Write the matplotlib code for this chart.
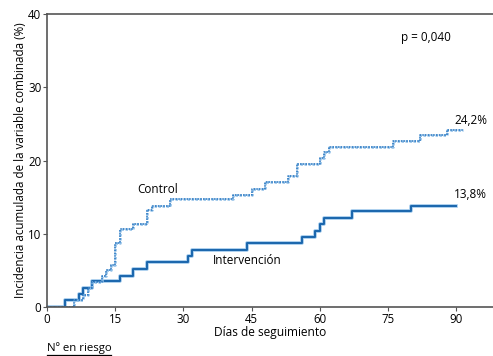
import matplotlib.pyplot as plt

plt.rcParams['font.family'] = ['Open Sans', 'DejaVu Sans']

# Intervención (solid)
int_days = [0, 4, 7, 8, 10, 16, 19, 22, 31, 32, 44, 56, 59, 60, 61, 67, 80, 90]
int_inc = [0, 0.9, 1.8, 2.6, 3.5, 4.3, 5.2, 6.1, 7.0, 7.8, 8.7, 9.5, 10.4, 11.3, 12.1, 13.1, 13.8, 13.8]

# Control (dotted)
ctl_days = [0, 6, 8, 9, 10, 12, 13, 14, 15, 16, 19, 22, 23, 27, 41, 45, 48, 53, 55,
            60, 61, 62, 76, 82, 88, 91.5]
ctl_inc = [0, 0.9, 1.7, 2.6, 3.4, 4.3, 5.0, 5.8, 8.8, 10.7, 11.3, 13.2, 13.8, 14.7,
           15.3, 16.1, 17.1, 17.9, 19.5, 20.4, 21.1, 21.9, 22.7, 23.5, 24.2, 24.2]

xticks = [0, 15, 30, 45, 60, 75, 90]
yticks = [0, 10, 20, 30, 40]

fig = plt.figure(figsize=(4.93, 3.56), dpi=100)
ax = fig.add_axes([0.0953, 0.1376, 0.9047, 0.8231])

# light halo + dark line for the solid curve
ax.step(int_days, int_inc, where='post', color='#9cc6ea', lw=2.6)
ax.step(int_days, int_inc, where='post', color='#1a66ad', lw=1.4)

ax.step(ctl_days, ctl_inc, where='post', color='#8dbde6', lw=1.8, linestyle=(0, (1, 0.6)))
ax.step(ctl_days, ctl_inc, where='post', color='#2a78c2', lw=1.1, linestyle=(0, (1, 0.8)))

ax.set_xlim(0, 98.1)
ax.set_ylim(0, 40)
ax.set_xticks(xticks)
ax.set_yticks(yticks)
ax.tick_params(labelsize=8.3, length=3, width=0.8, color='#555555', pad=1)

for s in ['left', 'bottom', 'top']:
    ax.spines[s].set_color('#555555')
    ax.spines[s].set_linewidth(1.2)
ax.spines['right'].set_visible(False)

ax.set_xlabel('Días de seguimiento', fontsize=8.6, labelpad=0)
ax.set_ylabel('Incidencia acumulada de la variable combinada (%)', fontsize=8.4, labelpad=1)

ax.text(83.3, 36.8, 'p = 0,040', fontsize=8.5, ha='center', va='center')
ax.text(93.2, 25.5, '24,2%', fontsize=8.5, ha='center', va='center')
ax.text(93.2, 15.4, '13,8%', fontsize=8.5, ha='center', va='center')
ax.text(24.3, 16.1, 'Control', fontsize=8.5, ha='center', va='center')
ax.text(44.0, 6.3, 'Intervención', fontsize=8.5, ha='center', va='center')

fig.text(47 / 493, 1 - 348 / 356, 'Nº en riesgo', fontsize=8.2, ha='left', va='center')
fig.add_artist(plt.Line2D([47 / 493, 111 / 493], [1 - 355 / 356] * 2, color='black', lw=0.9))

fig.savefig('out.png', dpi=100)
